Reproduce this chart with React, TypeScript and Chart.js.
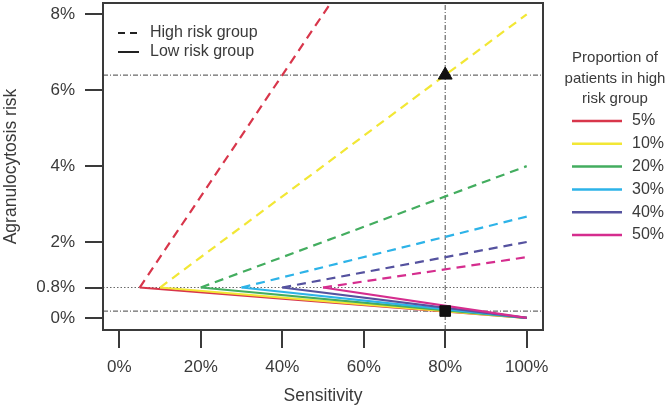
import React, { useEffect, useRef } from "react";
import { Chart, registerables } from "chart.js";

Chart.register(...registerables);

// ---- Data ----
const proportionLabels = ["5%", "10%", "20%", "30%", "40%", "50%"];
const startSensitivity = [5, 10, 20, 30, 40, 50];
const startRisk = [0.8, 0.8, 0.8, 0.8, 0.8, 0.8];
const endSensitivity = [100, 100, 100, 100, 100, 100];
const highRiskEnd = [16, 8, 4, 2.67, 2, 1.6];
const lowRiskEnd = [0, 0, 0, 0, 0, 0];
const seriesColors = ["#d8364b", "#f2e735", "#43ad5f", "#2db3e8", "#55529f", "#d52d8e"];

const xTicks = [0, 20, 40, 60, 80, 100];
const xTickLabels = ["0%", "20%", "40%", "60%", "80%", "100%"];
const yTicks = [0, 0.8, 2, 4, 6, 8];
const yTickLabels = ["0%", "0.8%", "2%", "4%", "6%", "8%"];

const refSensitivity = 80;
const refHighRisk = 6.4;
const refLowRisk = 0.18;
const baselineRisk = 0.8;

const legendTypeLabels = ["High risk group", "Low risk group"];
const legendTitle = ["Proportion of", "patients in high", "risk group"];

const X_MIN = -4;
const X_MAX = 104;
const Y_MIN = -0.32;
const Y_MAX = 8.3;

const FONT = "'Liberation Sans', Arial, Helvetica, sans-serif";
const TEXT = "#3a3a3a";
const REF = "#6a6a6a";

const extrasPlugin = {
  id: "extras",
  afterDraw(chart: any) {
    const { ctx, chartArea: a } = chart;
    ctx.save();
    // box
    ctx.strokeStyle = "#3a3a3a";
    ctx.lineWidth = 2;
    ctx.setLineDash([]);
    ctx.strokeRect(a.left, a.top, a.right - a.left, a.bottom - a.top);

    // inner legend (line type)
    ctx.font = `16px ${FONT}`;
    ctx.fillStyle = TEXT;
    ctx.textBaseline = "middle";
    ctx.textAlign = "left";
    const lx0 = a.left + 15;
    const lx1 = a.left + 36;
    const ly = [a.top + 30, a.top + 49];
    ctx.strokeStyle = "#222";
    ctx.lineWidth = 2;
    legendTypeLabels.forEach((lab, i) => {
      ctx.setLineDash(i === 0 ? [7, 5] : []);
      ctx.beginPath();
      ctx.moveTo(lx0, ly[i]);
      ctx.lineTo(lx1, ly[i]);
      ctx.stroke();
      ctx.fillText(lab, a.left + 47, ly[i]);
    });
    ctx.setLineDash([]);

    // right legend
    ctx.font = `15px ${FONT}`;
    ctx.textAlign = "center";
    const cx = 615;
    legendTitle.forEach((t, i) => {
      ctx.fillText(t, cx, 58 + i * 20.5);
    });
    ctx.textAlign = "left";
    proportionLabels.forEach((lab, i) => {
      const y = 121 + i * 22.8;
      ctx.strokeStyle = seriesColors[i];
      ctx.lineWidth = 2.5;
      ctx.beginPath();
      ctx.moveTo(572, y);
      ctx.lineTo(622, y);
      ctx.stroke();
      ctx.fillStyle = TEXT;
      ctx.font = `16px ${FONT}`;
      ctx.fillText(lab, 632, y);
    });
    ctx.restore();
  },
};

export default function App() {
  const ref = useRef<HTMLCanvasElement | null>(null);

  useEffect(() => {
    if (!ref.current) return;
    const datasets: any[] = [];

    // markers (on top)
    datasets.push({
      data: [{ x: refSensitivity, y: refHighRisk }],
      pointStyle: "triangle",
      pointRadius: 8,
      backgroundColor: "#111",
      borderColor: "#111",
      order: 0,
    });
    datasets.push({
      data: [{ x: refSensitivity, y: refLowRisk }],
      pointStyle: "rect",
      pointRadius: 7.5,
      backgroundColor: "#111",
      borderColor: "#111",
      order: 0,
    });

    proportionLabels.forEach((_, i) => {
      datasets.push({
        data: [
          { x: startSensitivity[i], y: startRisk[i] },
          { x: endSensitivity[i], y: highRiskEnd[i] },
        ],
        showLine: true,
        borderColor: seriesColors[i],
        borderWidth: 2.2,
        borderDash: [9, 6],
        pointRadius: 0,
        order: 10 - i,
      });
      datasets.push({
        data: [
          { x: startSensitivity[i], y: startRisk[i] },
          { x: endSensitivity[i], y: lowRiskEnd[i] },
        ],
        showLine: true,
        borderColor: seriesColors[i],
        borderWidth: 2.2,
        pointRadius: 0,
        order: 10 - i,
      });
    });

    // reference lines (behind)
    const refLine = (data: any[], dash: number[]) => ({
      data,
      showLine: true,
      borderColor: REF,
      borderWidth: 1.2,
      borderDash: dash,
      pointRadius: 0,
      order: 30,
    });
    datasets.push(
      refLine(
        [
          { x: refSensitivity, y: Y_MIN },
          { x: refSensitivity, y: Y_MAX },
        ],
        [5, 2, 1, 2]
      )
    );
    datasets.push(
      refLine(
        [
          { x: X_MIN, y: refHighRisk },
          { x: X_MAX, y: refHighRisk },
        ],
        [5, 2, 1, 2]
      )
    );
    datasets.push(
      refLine(
        [
          { x: X_MIN, y: refLowRisk },
          { x: X_MAX, y: refLowRisk },
        ],
        [5, 2, 1, 2]
      )
    );
    datasets.push(
      refLine(
        [
          { x: X_MIN, y: baselineRisk },
          { x: X_MAX, y: baselineRisk },
        ],
        [1.5, 2]
      )
    );

    const chart = new Chart(ref.current, {
      type: "scatter",
      data: { datasets },
      plugins: [extrasPlugin],
      options: {
        animation: false,
        responsive: false,
        devicePixelRatio: 1,
        layout: { autoPadding: false, padding: { left: 0, top: 3, right: 127, bottom: 0 } },
        plugins: { legend: { display: false }, tooltip: { enabled: false } },
        scales: {
          x: {
            type: "linear",
            min: X_MIN,
            max: X_MAX,
            afterBuildTicks: (s: any) => {
              s.ticks = xTicks.map((v) => ({ value: v }));
            },
            afterFit: (s: any) => {
              s.height = 79;
              s.paddingLeft = 0;
              s.paddingRight = 0;
            },
            ticks: {
              autoSkip: false,
              maxRotation: 0,
              padding: 9,
              color: TEXT,
              font: { size: 17, family: FONT },
              callback: (v: any) => xTickLabels[xTicks.indexOf(Number(v))] ?? "",
            },
            grid: {
              drawOnChartArea: false,
              drawTicks: true,
              tickLength: 18,
              color: "#3a3a3a",
              lineWidth: 2,
            },
            border: { display: false },
            title: {
              display: true,
              text: "Sensitivity",
              color: TEXT,
              font: { size: 17.5, family: FONT },
              padding: { top: 4, bottom: 2 },
            },
          },
          y: {
            type: "linear",
            min: Y_MIN,
            max: Y_MAX,
            afterBuildTicks: (s: any) => {
              s.ticks = yTicks.map((v) => ({ value: v }));
            },
            afterFit: (s: any) => {
              s.width = 103;
              s.paddingTop = 0;
              s.paddingBottom = 0;
            },
            ticks: {
              autoSkip: false,
              padding: 10,
              color: TEXT,
              font: { size: 17, family: FONT },
              callback: (v: any) => yTickLabels[yTicks.indexOf(Number(v))] ?? "",
            },
            grid: {
              drawOnChartArea: false,
              drawTicks: true,
              tickLength: 18,
              color: "#3a3a3a",
              lineWidth: 2,
            },
            border: { display: false },
            title: {
              display: true,
              text: "Agranulocytosis risk",
              color: TEXT,
              font: { size: 17.5, family: FONT },
              padding: { top: 1, bottom: 4 },
            },
          },
        },
      },
    } as any);
    return () => chart.destroy();
  }, []);

  return (
    <div style={{ position: "absolute", left: 0, top: 0, width: 670, height: 409, background: "#fff" }}>
      <canvas ref={ref} width={670} height={409} style={{ display: "block" }} />
    </div>
  );
}
